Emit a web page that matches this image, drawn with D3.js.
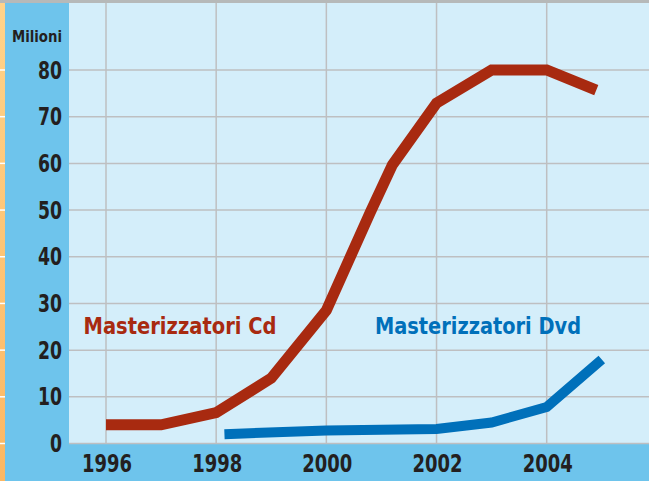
<!DOCTYPE html>
<html>
<head>
<meta charset="utf-8">
<script src="https://cdn.jsdelivr.net/npm/d3@7"></script>
<style>
  body { margin: 0; background: #fff; }
  svg text { font-family: "Liberation Sans Narrow", "DejaVu Sans Condensed", "Arial Narrow", sans-serif; font-weight: bold; }
</style>
</head>
<body>
<svg id="chart" width="649" height="481"></svg>
<script>
// values (millions of units)
var cdYears  = [1996, 1997, 1998, 1999, 2000, 2000.8, 2001.2, 2002, 2003, 2004, 2004.9];
var cdValues = [4, 4, 6.6, 14, 28.5, 49.6, 59.7, 72.9, 80, 80, 75.7];
var dvdYears  = [1998.15, 2000, 2002, 2003, 2004, 2005];
var dvdValues = [2.0, 2.8, 3.1, 4.5, 7.8, 18];
var yTicks = [0, 10, 20, 30, 40, 50, 60, 70, 80];
var xTicks = [1996, 1998, 2000, 2002, 2004];
var unitLabel = "Milioni";
var cdLabel = "Masterizzatori Cd";
var dvdLabel = "Masterizzatori Dvd";

var W = 649, H = 481;
var plot = {left: 69, top: 3, right: 649, bottom: 444};

var svg = d3.select("#chart");

var x = d3.scaleLinear().domain([1996, 2004]).range([106, 546.7]);
var y = d3.scaleLinear().domain([0, 80]).range([443.5, 70]);

// orange gradient strip on the far left
var defs = svg.append("defs");
var grad = defs.append("linearGradient").attr("id", "orange")
    .attr("x1", 0).attr("y1", 0).attr("x2", 0).attr("y2", 1);
grad.append("stop").attr("offset", "0%").attr("stop-color", "#FFD38A");
grad.append("stop").attr("offset", "100%").attr("stop-color", "#FBB763");

// backgrounds
svg.append("rect").attr("x", 0).attr("y", 0).attr("width", W).attr("height", H).attr("fill", "#6EC4EC");
svg.append("rect").attr("x", 0).attr("y", 0).attr("width", 5).attr("height", H).attr("fill", "url(#orange)");
svg.append("rect")
    .attr("x", plot.left).attr("y", plot.top)
    .attr("width", plot.right - plot.left).attr("height", plot.bottom - plot.top)
    .attr("fill", "#D4EEFA");
svg.append("rect").attr("x", 0).attr("y", 0).attr("width", W).attr("height", 3).attr("fill", "#B6B9B9");

// grid
var grid = svg.append("g").attr("stroke", "#BEBFC1").attr("stroke-width", 1.5);
grid.selectAll(".hgrid").data(yTicks).enter().append("line")
    .attr("x1", plot.left).attr("x2", plot.right)
    .attr("y1", function(d){ return y(d); }).attr("y2", function(d){ return y(d); });
grid.selectAll(".vgrid").data(xTicks).enter().append("line")
    .attr("y1", plot.top).attr("y2", plot.bottom)
    .attr("x1", function(d){ return x(d); }).attr("x2", function(d){ return x(d); });

// little white ticks on the orange strip
svg.append("g").selectAll("line").data(yTicks).enter().append("line")
    .attr("x1", 0).attr("x2", 5)
    .attr("y1", function(d){ return y(d); }).attr("y2", function(d){ return y(d); })
    .attr("stroke", "#fff").attr("stroke-width", 1.5);

// y labels
svg.append("g").selectAll("text").data(yTicks).enter().append("text")
    .attr("x", 62).attr("y", function(d){ return y(d) + 8.5; })
    .attr("text-anchor", "end")
    .attr("font-size", 24)
    .attr("fill", "#231F20")
    .attr("textLength", function(d){ return String(d).length * 12; })
    .attr("lengthAdjust", "spacingAndGlyphs")
    .text(function(d){ return d; });

svg.append("text")
    .attr("x", 12).attr("y", 42.3)
    .attr("font-size", 16)
    .attr("fill", "#231F20")
    .attr("textLength", 50).attr("lengthAdjust", "spacingAndGlyphs")
    .text(unitLabel);

// x labels
svg.append("g").selectAll("text").data(xTicks).enter().append("text")
    .attr("x", function(d){ return x(d) + 1; }).attr("y", 471.5)
    .attr("text-anchor", "middle")
    .attr("font-size", 24)
    .attr("fill", "#231F20")
    .attr("textLength", 50).attr("lengthAdjust", "spacingAndGlyphs")
    .text(function(d){ return d; });

// lines
var line = d3.line()
    .x(function(d){ return x(d[0]); })
    .y(function(d){ return y(d[1]); });

svg.append("path")
    .datum(d3.zip(dvdYears, dvdValues))
    .attr("d", line)
    .attr("fill", "none")
    .attr("stroke", "#0070BA")
    .attr("stroke-width", 10)
    .attr("stroke-linejoin", "miter");

svg.append("path")
    .datum(d3.zip(cdYears, cdValues))
    .attr("d", line)
    .attr("fill", "none")
    .attr("stroke", "#A82A10")
    .attr("stroke-width", 11)
    .attr("stroke-linejoin", "miter");

// series labels
svg.append("text")
    .attr("x", 83.5).attr("y", 334)
    .attr("font-size", 23)
    .attr("fill", "#A82A10")
    .attr("textLength", 193).attr("lengthAdjust", "spacingAndGlyphs")
    .text(cdLabel);

svg.append("text")
    .attr("x", 375).attr("y", 334)
    .attr("font-size", 23)
    .attr("fill", "#0070BA")
    .attr("textLength", 206).attr("lengthAdjust", "spacingAndGlyphs")
    .text(dvdLabel);
</script>
</body>
</html>
